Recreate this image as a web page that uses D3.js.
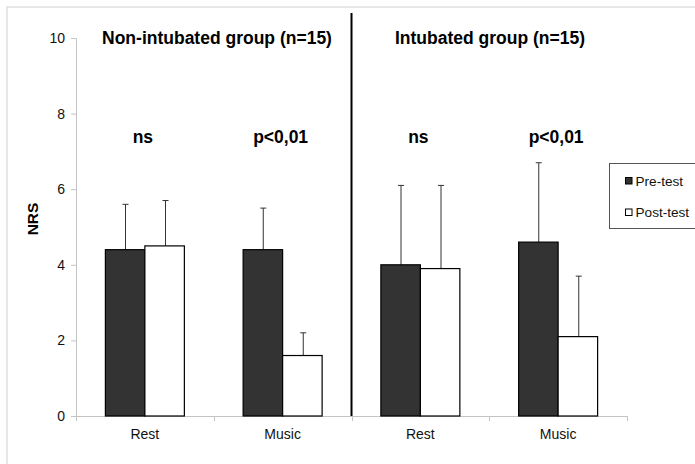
<!DOCTYPE html>
<html>
<head>
<meta charset="utf-8">
<script src="https://cdn.jsdelivr.net/npm/d3@7"></script>
<style>
  html, body { margin: 0; padding: 0; background: #fff; }
  svg { display: block; font-family: "Liberation Sans", Arial, sans-serif; }
</style>
</head>
<body>
<svg id="chart" width="695" height="464"></svg>
<script>
// ---- data ----
const groups = ["Non-intubated group (n=15)", "Intubated group (n=15)"];
const conditions = ["Rest", "Music"];
const series = ["Pre-test", "Post-test"];
const preMeans  = [4.4, 4.4, 4.0, 4.6];
const postMeans = [4.5, 1.6, 3.9, 2.1];
const preUpper  = [5.6, 5.5, 6.1, 6.7];
const postUpper = [5.7, 2.2, 6.1, 3.7];
const significance = ["ns", "p<0,01", "ns", "p<0,01"];
const yTicks = [0, 2, 4, 6, 8, 10];

// derived category keys
const categories = [];
groups.forEach((g, gi) => conditions.forEach((c, ci) => categories.push({ key: gi + "-" + c, label: c, group: gi })));
const rows = categories.map((c, i) => ({
  key: c.key, label: c.label,
  values: [
    { s: series[0], v: preMeans[i], u: preUpper[i] },
    { s: series[1], v: postMeans[i], u: postUpper[i] }
  ],
  sig: significance[i]
}));

const svg = d3.select("#chart");
const plotL = 76, plotR = 627, plotT = 38, plotB = 416;

const x = d3.scaleBand().domain(categories.map(c => c.key)).range([plotL, plotR]).padding(0);
const xs = d3.scaleBand().domain(series).range([0, x.bandwidth()]).paddingInner(0).paddingOuter(0.744);
const y = d3.scaleLinear().domain([0, 10]).range([plotB, plotT]);
const fill = d3.scaleOrdinal().domain(series).range(["#333333", "#ffffff"]);

const axisColor = "#c4c4c4";
const FF = "Liberation Sans, Arial, sans-serif";

// outer border (only top/left visible)
svg.append("rect").attr("x", 7).attr("y", 7).attr("width", 720).attr("height", 480)
  .attr("fill", "none").attr("stroke", "#cfcfcf").attr("stroke-width", 1);

// y axis
const yAxis = svg.append("g").attr("transform", `translate(${plotL},0)`)
  .call(d3.axisLeft(y).tickValues(yTicks).tickSize(5).tickPadding(6));
yAxis.select(".domain").attr("stroke", axisColor);
yAxis.selectAll(".tick line").attr("stroke", axisColor);
yAxis.selectAll(".tick text").attr("font-size", 14).attr("fill", "#111").attr("font-family", FF);

// x axis
svg.append("line").attr("x1", plotL).attr("x2", plotR).attr("y1", plotB + 0.5).attr("y2", plotB + 0.5)
  .attr("stroke", axisColor);
const bounds = categories.map(c => x(c.key)).concat([plotR]);
svg.selectAll(".xtick").data(bounds).join("line")
  .attr("x1", d => Math.round(d) + 0.5).attr("x2", d => Math.round(d) + 0.5)
  .attr("y1", plotB).attr("y2", plotB + 5).attr("stroke", axisColor);
svg.selectAll(".xlab").data(categories).join("text")
  .attr("x", d => x(d.key) + x.bandwidth() / 2).attr("y", 439)
  .attr("text-anchor", "middle").attr("font-size", 14).attr("fill", "#111")
  .text(d => d.label);

// bars
const cat = svg.selectAll(".cat").data(rows).join("g")
  .attr("transform", d => `translate(${x(d.key)},0)`);
cat.selectAll(".err").data(d => d.values).join("g").each(function(d) {
  const g = d3.select(this);
  const cx = Math.round(xs(d.s) + xs.bandwidth() / 2) + 0.5;
  g.append("line").attr("x1", cx).attr("x2", cx).attr("y1", y(d.v)).attr("y2", y(d.u))
    .attr("stroke", "#333").attr("stroke-width", 1);
  g.append("line").attr("x1", cx - 3).attr("x2", cx + 3).attr("y1", y(d.u)).attr("y2", y(d.u))
    .attr("stroke", "#333").attr("stroke-width", 1);
});
cat.selectAll(".bar").data(d => d.values).join("rect")
  .attr("x", d => xs(d.s)).attr("width", xs.bandwidth())
  .attr("y", d => y(d.v)).attr("height", d => y(0) - y(d.v))
  .attr("fill", d => fill(d.s)).attr("stroke", "#000").attr("stroke-width", 1.2);

// significance labels
svg.selectAll(".sig").data(rows).join("text")
  .attr("x", d => x(d.key) + x.bandwidth() / 2 - 2).attr("y", 143)
  .attr("text-anchor", "middle").attr("font-size", 17.5).attr("font-weight", "bold").attr("fill", "#000")
  .text(d => d.sig);

// group titles
svg.selectAll(".gtitle").data(groups).join("text")
  .attr("x", (d, i) => i === 0 ? 217 : 490).attr("y", 44)
  .attr("text-anchor", "middle").attr("font-size", 17.5).attr("font-weight", "bold").attr("fill", "#000")
  .text(d => d);

// separator line
svg.append("line").attr("x1", x(categories[2].key)).attr("x2", x(categories[2].key))
  .attr("y1", 13).attr("y2", plotB).attr("stroke", "#000").attr("stroke-width", 2);

// y label
svg.append("text").attr("transform", "translate(37.5,219) rotate(-90)")
  .attr("text-anchor", "middle").attr("font-size", 15.5).attr("font-weight", "bold").attr("fill", "#000")
  .text("NRS");

// legend
const lg = svg.append("g");
lg.append("rect").attr("x", 609.5).attr("y", 163.5).attr("width", 100).attr("height", 65)
  .attr("fill", "#fff").attr("stroke", "#555").attr("stroke-width", 1);
const li = lg.selectAll(".li").data(series).join("g")
  .attr("transform", (d, i) => `translate(0,${181 + i * 31.5})`);
li.append("rect").attr("x", 625.5).attr("y", -3.5).attr("width", 6.5).attr("height", 6.5)
  .attr("fill", d => fill(d)).attr("stroke", "#000").attr("stroke-width", 1);
li.append("text").attr("x", 635.5).attr("y", 4.5).attr("font-size", 13.6).attr("fill", "#111").text(d => d);
</script>
</body>
</html>
